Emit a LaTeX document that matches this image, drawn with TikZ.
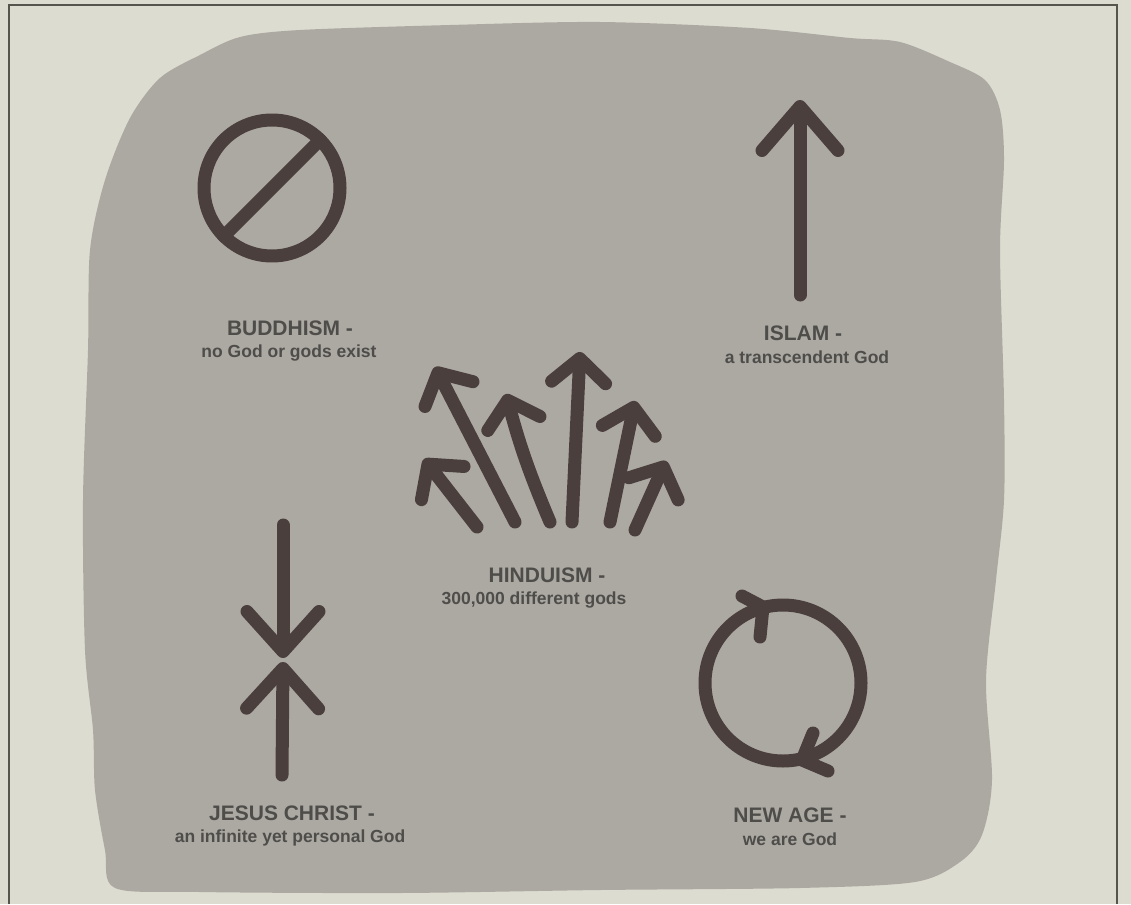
\documentclass[tikz,border=0pt]{standalone}
\usepackage{fontspec}
\setmainfont{Liberation Sans}
\usetikzlibrary{arrows.meta}

\definecolor{paper}{HTML}{DDDCD0}
\definecolor{blobgrey}{HTML}{ACA9A3}
\definecolor{inkbrown}{HTML}{4A3F3C}
\definecolor{labelgrey}{HTML}{4E4D4A}
\definecolor{framegrey}{HTML}{55554D}

\begin{document}
\begin{tikzpicture}[
    x=1pt, y=-1pt,
    ink/.style={draw=inkbrown, line width=13pt, line cap=round, line join=round},
    barb/.style={-{Straight Barb[length=24pt, width=54pt, round]}},
    heading/.style={anchor=base, inner sep=0pt, text=labelgrey, font=\bfseries\fontsize{21}{24}\selectfont},
    tagline/.style={anchor=base, inner sep=0pt, text=labelgrey, font=\bfseries\fontsize{17.5}{20}\selectfont}
]

    % Page and frame
    \useasboundingbox (0,0) rectangle (1131,904);
    \fill[paper] (0,0) rectangle (1131,904);
    \draw[framegrey, line width=2.2pt] (9,904) |- (1117,5) -- (1117,904);

    % Grey torn-paper blob
    \fill[blobgrey] plot[smooth cycle, tension=0.5] coordinates {
        (240,37) (300,30) (450,25) (600,22) (750,28) (850,38) (900,42)
        (950,62) (985,80) (1000,110) (1004,160) (1000,250) (1004,400)
        (1004,500) (996,580) (986,680) (992,780) (982,835) (960,862)
        (915,882) (800,888) (600,890) (400,893) (200,892) (115,888)
        (105,850) (95,790) (93,730) (85,650) (83,500) (88,350) (90,250)
        (105,180) (130,118) (160,78) (200,55)};

    % Buddhism
    \coordinate (budd_c) at (272,188);
    \draw[ink] (budd_c) circle[radius=68];
    \draw[ink] (budd_c) ++(135:68) -- ++(-45:136);
    \node[heading] (buddhism) at (290,335) {BUDDHISM -};
    \node[tagline] (buddhism_sub) at (289,357) {no God or gods exist};

    % Islam
    \coordinate (islam_foot) at (800,295);
    \coordinate (islam_tip) at (800,100);
    \draw[ink, -{Straight Barb[length=44pt, width=76pt, round]}] (islam_foot) -- (islam_tip);
    \node[heading] (islam) at (803,340) {ISLAM -};
    \node[tagline] (islam_sub) at (807,363) {a transcendent God};

    % Hinduism
    \draw[ink, barb] (477,527) -- (424,459);
    \draw[ink, barb] (515,522) -- (435,367);
    \draw[ink, barb] (550,522) to[bend left=4] (506,394);
    \draw[ink, barb] (572,522) -- (580,352);
    \draw[ink, barb] (610,522) -- (635,401);
    \draw[ink, barb] (635,530) -- (666,461);
    \node[heading] (hinduism) at (547,582) {HINDUISM -};
    \node[tagline] (hinduism_sub) at (534,604) {300,000 different gods};

    % Jesus Christ
    \coordinate (jesus_top) at (283,525);
    \coordinate (jesus_mid_a) at (283,658);
    \coordinate (jesus_mid_b) at (283,662);
    \coordinate (jesus_foot) at (282,775);
    \draw[ink, -{Straight Barb[length=40pt, width=72pt, round]}] (jesus_top) -- (jesus_mid_a);
    \draw[ink, -{Straight Barb[length=40pt, width=72pt, round]}] (jesus_foot) -- (jesus_mid_b);
    \node[heading] (jesus) at (292,820) {JESUS CHRIST -};
    \node[tagline] (jesus_sub) at (290,842) {an infinite yet personal God};

    % New Age
    \coordinate (newage_c) at (783,683);
    \draw[ink] (newage_c) circle[radius=78];
    \draw[ink] (742,596) -- (763,607) -- (760,637);
    \draw[ink] (813,733) -- (802,760) -- (828,771);
    \node[heading] (newage) at (790,822) {NEW AGE -};
    \node[tagline] (newage_sub) at (790,845) {we are God};

\end{tikzpicture}
\end{document}
